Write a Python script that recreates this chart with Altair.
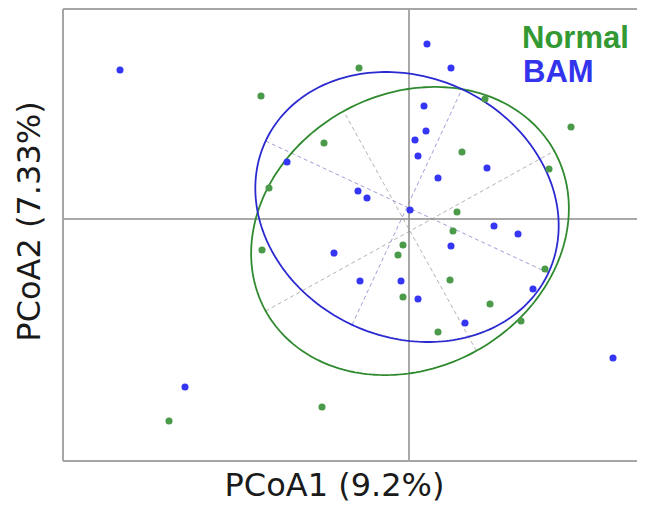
import numpy as np
import pandas as pd
import altair as alt

# ---- data (PCoA coordinates) ----
bam_x = [-0.289, 0.018, 0.042, 0.015, 0.017, 0.006, 0.009, -0.122, -0.051, -0.042,
         0.001, 0.029, 0.078, 0.085, 0.109, 0.042, 0.124, 0.056, 0.204, -0.075,
         -0.049, -0.008, 0.009, -0.224]
bam_y = [0.149, 0.175, 0.151, 0.113, 0.088, 0.079, 0.063, 0.057, 0.028, 0.021,
         0.009, 0.041, 0.051, -0.007, -0.015, -0.027, -0.070, -0.104, -0.139, -0.034,
         -0.062, -0.062, -0.080, -0.168]
normal_x = [-0.050, -0.148, -0.085, -0.140, 0.076, 0.162, 0.053, 0.140, 0.048, 0.044,
            -0.147, -0.006, -0.011, -0.006, 0.029, 0.041, 0.081, 0.136, 0.112, -0.087,
            -0.240]
normal_y = [0.151, 0.123, 0.076, 0.031, 0.120, 0.092, 0.067, 0.050, 0.007, -0.012,
            -0.031, -0.026, -0.036, -0.078, -0.113, -0.061, -0.085, -0.050, -0.102, -0.188,
            -0.202]

groups = ["Normal", "BAM"]
point_colors = ["#4a9a4a", "#3535f5"]
ellipse_colors = ["#2f8a2f", "#2a2ad0"]
label_colors = ["#339933", "#3333ee"]
axis_line_colors = ["#b4b4b4", "#a0a0d8"]

# ellipse parameters per group: centre x, centre y, semi-major, semi-minor, angle (deg)
ell_cx = [0.001, -0.002]
ell_cy = [-0.012, 0.012]
ell_a = [0.165, 0.156]
ell_b = [0.137, 0.130]
ell_ang = [29.0, -25.0]

x_title = "PCoA1 (9.2%)"
y_title = "PCoA2 (7.33%)"
x_domain = [-0.346, 0.228]
y_domain = [-0.242, 0.210]

W, H = 574, 452

# ---- tables ----
pts = pd.concat([
    pd.DataFrame({"x": normal_x, "y": normal_y, "group": "Normal"}),
    pd.DataFrame({"x": bam_x, "y": bam_y, "group": "BAM"}),
], ignore_index=True)

t = np.linspace(0, 2 * np.pi, 241)
ell_rows = []
axis_rows = []
for g, cx, cy, a, b, ang in zip(groups, ell_cx, ell_cy, ell_a, ell_b, ell_ang):
    th = np.deg2rad(ang)
    ex = cx + a * np.cos(t) * np.cos(th) - b * np.sin(t) * np.sin(th)
    ey = cy + a * np.cos(t) * np.sin(th) + b * np.sin(t) * np.cos(th)
    for i, (xx, yy) in enumerate(zip(ex, ey)):
        ell_rows.append({"x": xx, "y": yy, "group": g, "o": i})
    axis_rows.append({"group": g, "x": cx - a * np.cos(th), "y": cy - a * np.sin(th),
                      "x2": cx + a * np.cos(th), "y2": cy + a * np.sin(th)})
    axis_rows.append({"group": g, "x": cx + b * np.sin(th), "y": cy - b * np.cos(th),
                      "x2": cx - b * np.sin(th), "y2": cy + b * np.cos(th)})
ell = pd.DataFrame(ell_rows)
axl = pd.DataFrame(axis_rows)

xs = alt.Scale(domain=x_domain, nice=False, zero=False)
ys = alt.Scale(domain=y_domain, nice=False, zero=False)
X = lambda f="x": alt.X(f"{f}:Q", scale=xs, title=x_title)
Y = lambda f="y": alt.Y(f"{f}:Q", scale=ys, title=y_title)

# ---- layers ----
ell_axes = alt.Chart(axl).mark_rule(strokeDash=[4, 3], strokeWidth=1).encode(
    x=X(), y=Y(), x2="x2:Q", y2="y2:Q",
    color=alt.Color("group:N", scale=alt.Scale(domain=groups, range=axis_line_colors), legend=None),
)

zero_v = alt.Chart(pd.DataFrame({"x": [0.0]})).mark_rule(color="#8c8c8c", strokeWidth=1.5).encode(x=X())
zero_h = alt.Chart(pd.DataFrame({"y": [0.0]})).mark_rule(color="#8c8c8c", strokeWidth=1.5).encode(y=Y())

ellipses = alt.Chart(ell).mark_line(strokeWidth=1.8).encode(
    x=X(), y=Y(), order="o:Q", detail="group:N",
    stroke=alt.Stroke("group:N", scale=alt.Scale(domain=groups, range=ellipse_colors), legend=None),
)

points = alt.Chart(pts).mark_circle(size=50, opacity=1).encode(
    x=X(), y=Y(),
    fill=alt.Fill("group:N", scale=alt.Scale(domain=groups, range=point_colors), legend=None),
)

frame_col = "#a6a6a6"
frame_left = alt.Chart(pd.DataFrame({"d": [0]})).mark_rule(color=frame_col, strokeWidth=2).encode(
    x=alt.value(0), y=alt.value(0), y2=alt.value(H))
frame_top = alt.Chart(pd.DataFrame({"d": [0]})).mark_rule(color=frame_col, strokeWidth=2).encode(
    x=alt.value(0), x2=alt.value(W + 10), y=alt.value(0))
frame_bottom = alt.Chart(pd.DataFrame({"d": [0]})).mark_rule(color=frame_col, strokeWidth=2).encode(
    x=alt.value(0), x2=alt.value(W + 10), y=alt.value(H))

leg_normal = alt.Chart(pd.DataFrame({"label": [groups[0]]})).mark_text(
    font="Liberation Sans", fontWeight="bold", fontSize=31, align="left", baseline="alphabetic",
    color=label_colors[0]).encode(x=alt.value(459), y=alt.value(39), text="label:N")
leg_bam = alt.Chart(pd.DataFrame({"label": [groups[1]]})).mark_text(
    font="Liberation Sans", fontWeight="bold", fontSize=31, align="left", baseline="alphabetic",
    color=label_colors[1]).encode(x=alt.value(460), y=alt.value(73), text="label:N")

chart = alt.layer(
    ell_axes, zero_v, zero_h, ellipses, points, frame_left, frame_top, frame_bottom, leg_normal, leg_bam
).properties(
    width=W, height=H,
    autosize=alt.AutoSizeParams(type="none"),
    padding={"left": 55, "top": 1, "right": 0, "bottom": 43},
).configure_view(stroke=None).configure(background="white").configure_axis(
    labels=False, ticks=False, domain=False, grid=False,
    titleFont="DejaVu Sans", titleFontSize=32, titleFontWeight="normal", titleColor="#1a1a1a",
).configure_axisX(
    titleX=271, titleY=34, titleAlign="center", titleBaseline="alphabetic",
).configure_axisY(
    titleX=-34, titleY=212, titleAngle=270, titleAlign="center", titleBaseline="middle",
)

chart.save("out.html", embed_options={"renderer": "svg", "actions": False})
